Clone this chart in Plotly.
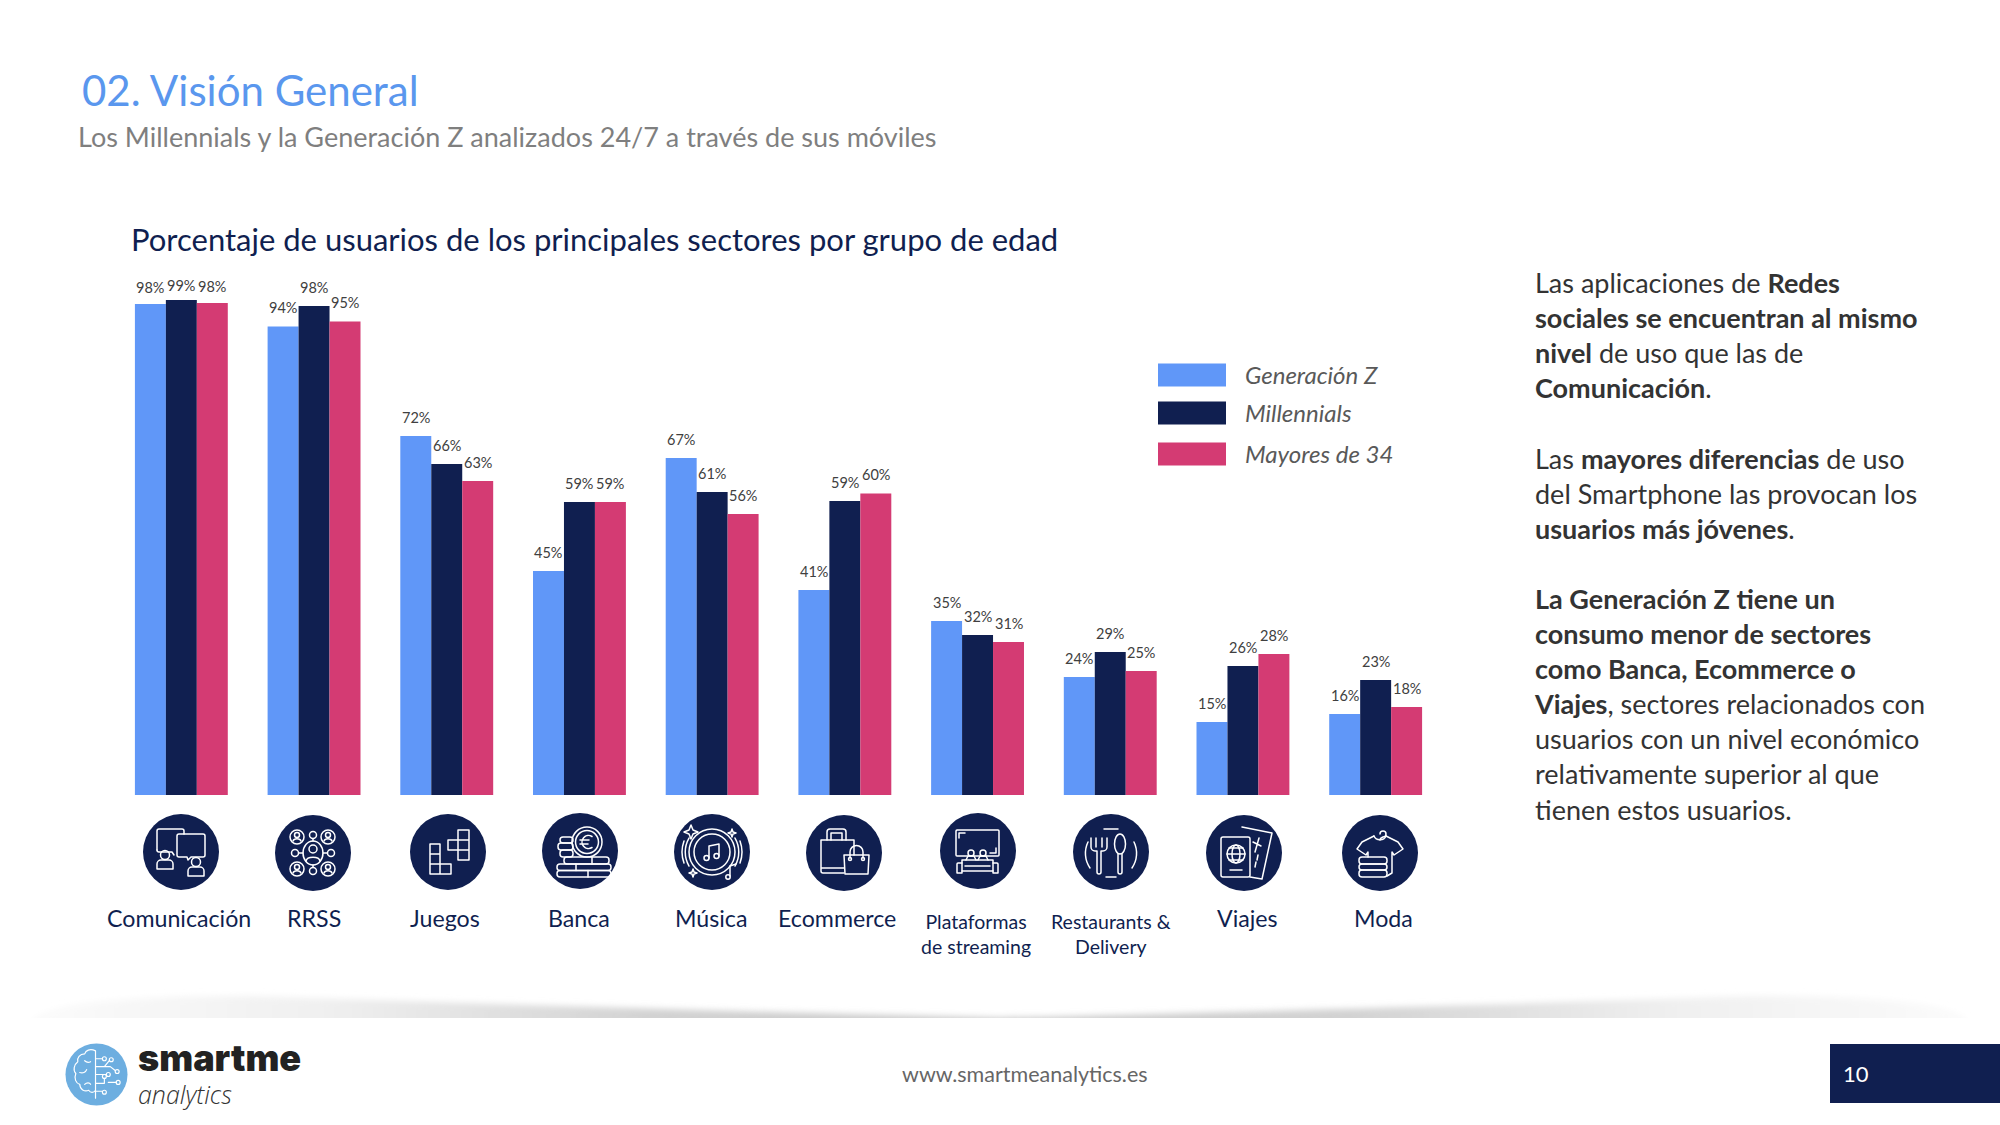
import base64
import plotly.graph_objects as go

W, H = 2000, 1125

categories = ['Comunicación', 'RRSS', 'Juegos', 'Banca', 'Música', 'Ecommerce',
              'Plataformas<br>de streaming', 'Restaurants &<br>Delivery', 'Viajes', 'Moda']
series_names = ['Generación Z', 'Millennials', 'Mayores de 34']
gen_z = [98.2, 93.7, 71.8, 44.8, 67.4, 41.0, 34.8, 23.6, 14.6, 16.2]
millennials = [99.0, 97.8, 66.2, 58.6, 60.6, 58.8, 32.0, 28.6, 25.8, 23.0]
mayores = [98.4, 94.7, 62.8, 58.6, 56.2, 60.3, 30.6, 24.8, 28.2, 17.6]
colors = ['#6097F8', '#101F50', '#D43B73']

NAVY = '#101F50'


def px(x):
    return x / W


def py(y):
    return 1 - y / H


def svg_uri(body, w=76, h=76):
    svg = f'<svg xmlns="http://www.w3.org/2000/svg" width="{w * 4}" height="{h * 4}" viewBox="0 0 {w} {h}">{body}</svg>'
    return 'data:image/svg+xml;base64,' + base64.b64encode(svg.encode()).decode()


def icon(inner):
    return svg_uri(f'<circle cx="38" cy="38" r="38" fill="{NAVY}"/>'
                   f'<g fill="none" stroke="#fff" stroke-width="1.5" stroke-linejoin="round" stroke-linecap="round">{inner}</g>')


def person(cx, cy):
    return (f'<circle cx="{cx}" cy="{cy}" r="4.5"/>'
            f'<path d="M{cx - 8} {cy + 14} v-5 a4 4 0 0 1 4-4 h8 a4 4 0 0 1 4 4 v5 z"/>')


icons = [
    # comunicacion
    '<path d="M14 36V17a2 2 0 0 1 2-2H39a2 2 0 0 1 2 2V20"/>'
    '<path d="M14 36a2 2 0 0 0 2 2H29l2 3"/>'
    '<path d="M36 20H60a2 2 0 0 1 2 2V41a2 2 0 0 1-2 2H48l-3 3-1-3H36a2 2 0 0 1-2-2V22a2 2 0 0 1 2-2z"/>'
    + person(22, 41) + person(53, 48),
    # rrss
    '<ellipse cx="38" cy="38" rx="10" ry="12"/><circle cx="38" cy="34" r="4"/>'
    '<path d="M31 46c1-5 13-5 14 0"/>'
    '<circle cx="22" cy="22" r="7"/><circle cx="53" cy="22" r="7"/><circle cx="22" cy="54" r="7"/><circle cx="53" cy="54" r="7"/>'
    '<circle cx="22" cy="20" r="2.5"/><circle cx="53" cy="20" r="2.5"/><circle cx="22" cy="52" r="2.5"/><circle cx="53" cy="52" r="2.5"/>'
    '<path d="M18 26c1-3 7-3 8 0M49 26c1-3 7-3 8 0M18 58c1-3 7-3 8 0M49 58c1-3 7-3 8 0"/>'
    '<circle cx="38" cy="20" r="3.5"/><circle cx="38" cy="56" r="3.5"/><circle cx="20" cy="38" r="3.5"/><circle cx="56" cy="38" r="3.5"/>'
    '<path d="M38 24V26M38 50V52M24 38H28M48 38H52"/>',
    # juegos
    '<path d="M20 30H30V60H20zM20 40H30M20 50H41V60H30V50"/>'
    '<path d="M48 16H59V46H48zM48 26H59M48 36H59M38 26H48V36H38z"/>',
    # banca
    '<circle cx="45" cy="29" r="15"/><circle cx="45" cy="29" r="11.5"/>'
    '<path d="M50 23.5a6.5 6.5 0 1 0 0 11M38 27H47M38 31H46"/>'
    '<rect x="18" y="24" width="13" height="6" rx="3"/><rect x="16" y="30" width="15" height="7" rx="3"/><rect x="18" y="37" width="13" height="7" rx="3"/>'
    '<rect x="22" y="44" width="45" height="7" rx="3"/><rect x="15" y="51" width="54" height="6.5" rx="3"/><rect x="15" y="57.5" width="54" height="6.5" rx="3"/>'
    '<path d="M34 51v6.5M46 57.5V64M50 44v7"/>',
    # musica
    '<circle cx="38" cy="38" r="23"/><circle cx="38" cy="38" r="18"/>'
    '<path d="M15 24a28 28 0 0 0 0 28M10 27a32 32 0 0 0 0 22M61 24a28 28 0 0 1 0 28M66 27a32 32 0 0 1 0 22"/>'
    '<path d="M35 44V32L45 30V42"/><circle cx="32.5" cy="44" r="2.5"/><circle cx="42.5" cy="42" r="2.5"/>'
    '<path d="M17 11l2 5 5 2-5 2-2 5-2-5-5-2 5-2zM58 15l1 3 3 1-3 1-1 3-1-3-3-1 3-1zM19 55l1 3 3 1-3 1-1 3-1-3-3-1 3-1z"/>'
    '<path d="M56 62V52L62 50"/><circle cx="54" cy="63" r="2.2"/>',
    # ecommerce
    '<path d="M15 25H48V40M38 58H17a2 2 0 0 1-2-2V25M15 53H38"/><path d="M21 25V17a3 3 0 0 1 3-3H37a3 3 0 0 1 3 3V25"/>'
    '<path d="M25 25V18H36V25"/><path d="M38 40H63L62 59H39z"/><path d="M44 43V37a6.5 6.5 0 0 1 13 0V43"/>'
    '<circle cx="44" cy="44" r="1.5"/><circle cx="57" cy="44" r="1.5"/>',
    # streaming
    '<rect x="16" y="17" width="43" height="26" rx="1"/><path d="M19 25V20H25M56 35V40H50"/>'
    '<rect x="22" y="47" width="31" height="11"/><path d="M22 50H18a1 1 0 0 0-1 1V60H22V58M53 50H57a1 1 0 0 1 1 1V60H53V58"/>'
    '<circle cx="31" cy="40" r="3"/><circle cx="43" cy="40" r="3"/><path d="M26 47l2-4h6l2 4M38 47l2-4h6l2 4"/>'
    '<path d="M25 53H50"/>',
    # restaurants
    '<path d="M15 28a26 26 0 0 0 2 26M61 28a26 26 0 0 1-2 26M31 15H45M33 63H43"/>'
    '<path d="M18 24V33a4 4 0 0 0 4 4h2V58a2 2 0 0 0 4 0V37h2a4 4 0 0 0 4-4V24M23 24V33M29 24V33"/>'
    '<ellipse cx="47" cy="30" rx="5.5" ry="10"/><path d="M45 40V58a2 2 0 0 0 4 0V40"/>',
    # viajes
    '<rect x="15" y="22" width="29" height="40" rx="2"/><circle cx="30" cy="39" r="9"/><ellipse cx="30" cy="39" rx="4" ry="9"/>'
    '<path d="M21 39H39M23 33H37M23 45H37M24 55H36"/>'
    '<path d="M36 12L66 18 56 64 44 62"/><path d="M53 23l-4 14M47 27l8 4M52 40l-1 5M50 47l-1 5"/>',
    # moda
    '<path d="M38 19a3 3 0 1 1 3 3c-2 1-3 1-3 3"/><path d="M32 21L20 27 15 34 24 40 26 37V42M44 21L56 27 61 34 52 40 50 37V58L45 61"/>'
    '<path d="M32 21c2 5 10 5 12 0"/>'
    '<rect x="17" y="42" width="28" height="7" rx="3"/><rect x="17" y="49" width="28" height="6" rx="3"/><rect x="17" y="55" width="28" height="7" rx="3"/>',
]
icon_x = [181, 313, 448, 580, 712, 844, 978, 1111, 1244, 1380]
icon_y = [852, 853, 852, 851, 852, 853, 851, 852, 853, 853]
label_x = [179, 314, 445, 579, 711, 837, 976, 1111, 1247, 1383]

brain = ('<circle cx="32" cy="32" r="31.5" fill="#6DAEE0"/>'
         '<g fill="none" stroke="#fff" stroke-width="1.2" stroke-linecap="round" stroke-linejoin="round">'
         '<path d="M31 8V56M31 8c-6-3-10 0-11 3-5 0-8 4-7 8-4 3-5 9-2 12-2 5 0 10 4 11 0 5 5 8 9 6 2 3 5 3 7 0"/>'
         '<path d="M20 18c2 2 4 2 6 1M15 30c3 1 6 0 7-3M20 42c2-2 5-2 6 0"/>'
         '<path d="M31 16H38M31 24H46M31 32H42M31 41H40V36M31 49H38M40 24l5-6M46 24l5 4M44 40H52"/>'
         '<circle cx="40" cy="16" r="2"/><circle cx="47" cy="17" r="2"/><circle cx="53" cy="29" r="2"/><circle cx="44" cy="32" r="2"/>'
         '<circle cx="40" cy="34" r="2"/><circle cx="54" cy="40" r="2"/><circle cx="40" cy="50" r="2"/></g>')

# tapered drop shadow above the footer, nearly gone in the middle, wide and pale at the ends
shadow = ('<defs><linearGradient id="g" x1="0" y1="0" x2="1" y2="0">'
          '<stop offset="0" stop-color="#fbfbfb"/><stop offset="0.15" stop-color="#f0f0f0"/>'
          '<stop offset="0.32" stop-color="#d2d2d2"/><stop offset="0.5" stop-color="#c8c8c8"/>'
          '<stop offset="0.68" stop-color="#d2d2d2"/><stop offset="0.85" stop-color="#f0f0f0"/><stop offset="1" stop-color="#fbfbfb"/></linearGradient>'
          '<filter id="b" x="-5%" y="-100%" width="110%" height="300%"><feGaussianBlur stdDeviation="3"/></filter></defs>'
          '<path d="M30 44Q30 14 250 14Q700 29 1000 36Q1300 29 1750 14Q1970 14 1970 44Z" fill="url(#g)" filter="url(#b)"/>')

fig = go.Figure()
for name, vals, col in zip(series_names, [gen_z, millennials, mayores], colors):
    fig.add_trace(go.Bar(name=name, x=categories, y=vals, marker_color=col,
                         marker_line_width=0, showlegend=False))

shapes = []
anns = []
images = []


def text(x, y, s, size, color, xanchor='left', family='Lato', weight=None):
    anns.append(dict(text=s, x=px(x), y=py(y), xref='paper', yref='paper', showarrow=False,
                     xanchor=xanchor, yanchor='middle', align=xanchor,
                     font=dict(size=size, color=color, family=family, weight=weight)))


# value labels above the bars, the first group sits level in the source
offsets = [-31, 0, 31]
first_group_shift = [17, 15, 17]
for vals, off, first in zip([gen_z, millennials, mayores], offsets, first_group_shift):
    for i, (cat, v) in enumerate(zip(categories, vals)):
        anns.append(dict(text=f'{v:.0f}%', x=cat, y=v, xref='x', yref='y', showarrow=False,
                         xshift=off, yshift=first if i == 0 else 19, yanchor='middle',
                         font=dict(size=14.5, color='#404040', family='Lato')))

for src, x, y in zip(icons, icon_x, icon_y):
    images.append(dict(source=icon(src), xref='paper', yref='paper', x=px(x - 38), y=py(y - 38),
                       sizex=76 / W, sizey=76 / H, xanchor='left', yanchor='top', sizing='stretch', layer='above'))

for cat, x in zip(categories, label_x):
    if '<br>' in cat:
        text(x, 934, cat, 19.5, NAVY, 'center')
    else:
        text(x, 918, cat, 23.2, NAVY, 'center')

# legend
for name, col, y in zip(series_names, colors, [375, 413, 454]):
    shapes.append(dict(type='rect', xref='paper', yref='paper', x0=px(1158), x1=px(1226), y0=py(y - 11.5), y1=py(y + 11.5),
                       fillcolor=col, line_width=0))
    text(1243, y - 1, f'<i>{name}</i>', 24, '#595959')

# header
text(80, 90, '02. Visión General', 42, '#5A97EE')
text(76, 136, 'Los Millennials y la Generación Z analizados 24/7 a través de sus móviles', 27, '#7F7F7F')
text(129, 239, 'Porcentaje de usuarios de los principales sectores por grupo de edad', 31, NAVY)

# right-hand comment
comment = ('Las aplicaciones de <b>Redes</b><br><b>sociales se encuentran al mismo</b><br><b>nivel</b> de uso que las de<br><b>Comunicación</b>.<br><br>'
           'Las <b>mayores diferencias</b> de uso<br>del Smartphone las provocan los<br><b>usuarios más jóvenes</b>.<br><br>'
           '<b>La Generación Z tiene un</b><br><b>consumo menor de sectores</b><br><b>como Banca, Ecommerce o</b><br>'
           '<b>Viajes</b>, sectores relacionados con<br>usuarios con un nivel económico<br>relativamente superior al que<br>tienen estos usuarios.')
anns.append(dict(text=comment, x=px(1532), y=py(264), xref='paper', yref='paper', showarrow=False, xanchor='left', yanchor='top',
                 align='left', font=dict(size=27, color='#333333', family='Lato')))

# footer
images.append(dict(source=svg_uri(shadow, 2000, 36), xref='paper', yref='paper', x=0, y=py(982), sizex=1, sizey=36 / H,
                   xanchor='left', yanchor='top', sizing='stretch', layer='below'))
images.append(dict(source=svg_uri(brain, 64, 64), xref='paper', yref='paper', x=px(65), y=py(1043), sizex=63 / W, sizey=63 / H,
                   xanchor='left', yanchor='top', sizing='stretch', layer='above'))
text(136, 1058, 'smartme', 36, '#222222', family='Inter', weight=900)
text(136, 1094, '<i>analytics</i>', 25, '#333333', family='Open Sans', weight=300)
text(1025, 1074, 'www.smartmeanalytics.es', 21.5, '#666666', 'center')
shapes.append(dict(type='rect', xref='paper', yref='paper', x0=px(1830), x1=1, y0=py(1044), y1=py(1103),
                   fillcolor=NAVY, line_width=0))
text(1856, 1073, '10', 22, '#FFFFFF', 'center')

fig.update_layout(
    width=W, height=H,
    margin=dict(l=0, r=0, t=0, b=0),
    paper_bgcolor='white', plot_bgcolor='white',
    barmode='group', bargap=0.3, bargroupgap=0,
    xaxis=dict(domain=[px(115), px(1442)], showticklabels=False, showgrid=False, zeroline=False, ticks='', fixedrange=True),
    yaxis=dict(domain=[py(795), py(270)], range=[0, 105], visible=False, fixedrange=True),
    shapes=shapes, annotations=anns, images=images,
    font=dict(family='Lato'),
    hovermode=False,
)

fig.write_html('out.html', config={'displayModeBar': False}, post_script="document.body.style.margin='0';")
